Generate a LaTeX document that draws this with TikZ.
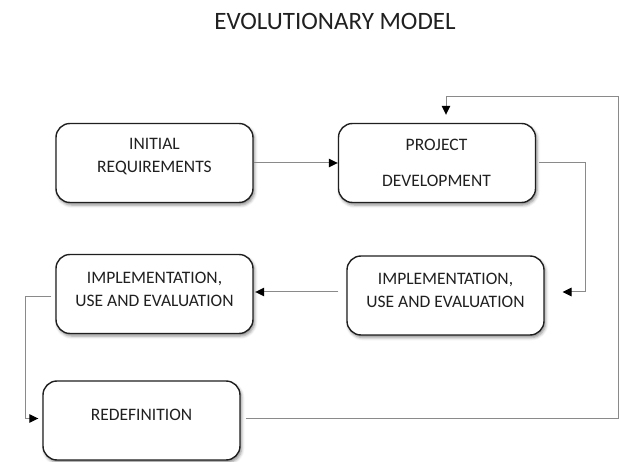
\documentclass[tikz,border=0pt]{standalone}
\usepackage{fontspec}
\setmainfont{Carlito}
\usetikzlibrary{arrows.meta,shadows.blur,calc}
\definecolor{ink}{HTML}{202020}
\definecolor{wire}{HTML}{8A8A8A}
\begin{document}
\begin{tikzpicture}[x=1pt,y=-1pt,
  stage/.style={draw=black!88, line width=1.4pt, rounded corners=14pt, fill=white,
    minimum width=197pt, minimum height=79pt, inner sep=0pt,
    blur shadow={shadow xshift=1.5pt, shadow yshift=-2.5pt, shadow blur radius=3pt, shadow opacity=45}},
  caption/.style={text=ink, font=\fontsize{17.5}{23}\selectfont, align=center, inner sep=0pt},
  flow/.style={draw=wire, line width=1pt,
    -{Triangle[length=9pt,width=8.5pt,color=black]}},
]
\useasboundingbox (0,0) rectangle (619,462);

% heading
\node[text=ink, font=\fontsize{25}{30}\selectfont, inner sep=0pt] (title) at (335,21) {EVOLUTIONARY MODEL};

% process stages
\node[stage] (init)  at (154.5,163)   {};
\node[stage] (proj)  at (437,163)     {};
\node[stage] (implR) at (445.5,295.5) {};
\node[stage] (implL) at (154.5,294)   {};
\node[stage] (redef) at (141.5,420.5) {};

% stage labels
\node[caption] (initT)  at (154.5,156.5) {INITIAL\\REQUIREMENTS};
\node[caption] (projT)  at (436.5,163)   {PROJECT\\[13pt]DEVELOPMENT};
\node[caption] (implRT) at (445.5,290.5) {IMPLEMENTATION,\\USE AND EVALUATION};
\node[caption] (implLT) at (154.5,289)   {IMPLEMENTATION,\\USE AND EVALUATION};
\node[caption] (redefT) at (141.5,415)   {REDEFINITION};

% routing points
\coordinate (rimSE)   at (618,418.5);
\coordinate (rimNE)   at (618,96.5);
\coordinate (bendA)   at (585.5,163);
\coordinate (dropTip) at (562.5,292);

% connectors
\draw[flow] (init.east) -- (proj.west);
\draw[flow, shorten <=3pt] (proj.east) -- (bendA) |- (dropTip);
\draw[flow, shorten <=8pt, shorten >=1.5pt]
  ([yshift=3.5pt]implR.west) -- ([yshift=3.5pt]implR.west -| implL.east);
\draw[flow, shorten <=4pt, shorten >=4pt]
  ([yshift=-2.5pt]implL.west) -- ++(-30,0) |- ([yshift=2pt]redef.west);
\draw[flow, shorten <=5pt, shorten >=8pt]
  ([yshift=2pt]redef.east) -- (rimSE) -- (rimNE) -| ($(proj.north)+(9,0)$);
\end{tikzpicture}
\end{document}
